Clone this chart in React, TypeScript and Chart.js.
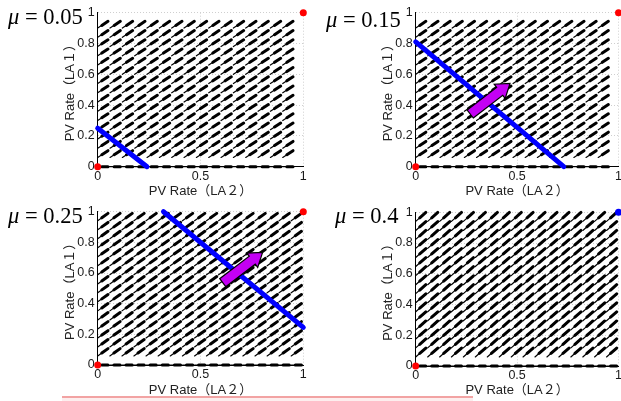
import React, { useEffect, useRef } from 'react';
import { Chart, registerables } from 'chart.js';

Chart.register(...registerables);

// ---------- data ----------
const MU_LABELS = ['0.05', '0.15', '0.25', '0.4'];
const X_TITLE = 'PV Rate（LA２）';
const Y_TITLE = 'PV Rate（LA１）';
const X_TICK_STEP = 0.5;
const Y_TICK_STEP = 0.2;

// quiver base points (same for x and y)
const GRID_UPPER = [0, 0.06, 0.12, 0.18, 0.24, 0.3, 0.36, 0.42, 0.48, 0.54, 0.6, 0.66, 0.72, 0.78, 0.84, 0.9];
const GRID_LOWER = [0, 0.059, 0.118, 0.176, 0.235, 0.294, 0.353, 0.412, 0.471, 0.529, 0.588, 0.647, 0.706, 0.765, 0.824, 0.882, 0.941];
// arrow components per panel
const FIELD_U = [0.05, 0.05, 0.05, 0.05];
const FIELD_V = [0.044, 0.044, 0.048, 0.058];

// blue threshold line per panel
const BLUE_LINE_X = [[0, 0.24], [0, 0.73], [0.32, 1.0], []];
const BLUE_LINE_Y = [[0.25, 0], [0.81, 0], [1.0, 0.245], []];

// stable points
const RED_DOT_X = [[0, 1], [0, 1], [0, 1], [0]];
const RED_DOT_Y = [[0, 1], [0, 1], [0, 1], [0]];
const BLUE_DOT_X = [[], [], [], [1]];
const BLUE_DOT_Y = [[], [], [], [1]];

// magenta push arrow (tail -> tip) per panel
const PUSH_TAIL_X = [null, 0.269, 0.608, null];
const PUSH_TAIL_Y = [null, 0.342, 0.537, null];
const PUSH_TIP_X = [null, 0.465, 0.802, null];
const PUSH_TIP_Y = [null, 0.541, 0.735, null];

// ---------- layout ----------
const PANELS = [
  { left: 40, top: 0, w: 272, h: 200, padTop: 12.7, padRight: 8.7, xAxisH: 33.3, xTitlePad: 0.5, grid: GRID_UPPER, muLeft: 8, muTop: 6.2 },
  { left: 358, top: 0, w: 272, h: 200, padTop: 12.7, padRight: 11.5, xAxisH: 33.3, xTitlePad: 0.5, grid: GRID_UPPER, muLeft: 326, muTop: 9.2 },
  { left: 40, top: 195, w: 272, h: 206, padTop: 16.7, padRight: 8.7, xAxisH: 36, xTitlePad: 3.2, grid: GRID_LOWER, muLeft: 8, muTop: 204.5 },
  { left: 358, top: 195, w: 272, h: 206, padTop: 17.3, padRight: 11.5, xAxisH: 35, xTitlePad: 3.2, grid: GRID_LOWER, muLeft: 335, muTop: 204.5 },
];

const SANS = "'Liberation Sans', 'Noto Sans CJK JP', Arial, sans-serif";
const fmtTick = (v: any) => String(Math.round(Number(v) * 100) / 100);

function makePanelPlugin(i: number) {
  return {
    id: 'panelDecor' + i,
    beforeDatasetsDraw(chart: any) {
      const { ctx, scales } = chart;
      const xs = scales.x, ys = scales.y;
      const grid = PANELS[i].grid;
      ctx.save();
      ctx.strokeStyle = '#000';
      ctx.fillStyle = '#000';
      ctx.lineCap = 'round';
      for (const gy of grid) {
        for (const gx of grid) {
          const u = FIELD_U[i];
          const v = gy === 0 ? 0 : FIELD_V[i];
          const x0 = xs.getPixelForValue(gx), y0 = ys.getPixelForValue(gy);
          const x1 = xs.getPixelForValue(gx + u), y1 = ys.getPixelForValue(gy + v);
          const len = Math.hypot(x1 - x0, y1 - y0);
          const ca = (x1 - x0) / len, sa = (y1 - y0) / len;
          ctx.lineWidth = 1.2;
          ctx.beginPath();
          ctx.moveTo(x0, y0);
          ctx.lineTo(x1, y1);
          ctx.stroke();
          const hs = len * 0.6;
          ctx.lineWidth = 3;
          ctx.beginPath();
          ctx.moveTo(x1 - ca * hs, y1 - sa * hs);
          ctx.lineTo(x1, y1);
          ctx.stroke();
        }
      }
      ctx.restore();
    },
    afterDatasetsDraw(chart: any) {
      if (PUSH_TAIL_X[i] == null) return;
      const { ctx, scales } = chart;
      const xs = scales.x, ys = scales.y;
      const tx = xs.getPixelForValue(PUSH_TAIL_X[i]), ty = ys.getPixelForValue(PUSH_TAIL_Y[i]);
      const hx = xs.getPixelForValue(PUSH_TIP_X[i]), hy = ys.getPixelForValue(PUSH_TIP_Y[i]);
      const len = Math.hypot(hx - tx, hy - ty);
      const ca = (hx - tx) / len, sa = (hy - ty) / len;
      const nx = -sa, ny = ca;
      const sw = 5, hw = 9, hl = 13;
      const bx = hx - ca * hl, by = hy - sa * hl;
      const pts = [
        [tx + nx * sw, ty + ny * sw],
        [bx + nx * sw, by + ny * sw],
        [bx + nx * hw, by + ny * hw],
        [hx, hy],
        [bx - nx * hw, by - ny * hw],
        [bx - nx * sw, by - ny * sw],
        [tx - nx * sw, ty - ny * sw],
      ];
      ctx.save();
      ctx.beginPath();
      pts.forEach((p, k) => (k === 0 ? ctx.moveTo(p[0], p[1]) : ctx.lineTo(p[0], p[1])));
      ctx.closePath();
      ctx.fillStyle = '#c400f4';
      ctx.fill();
      ctx.lineWidth = 1.2;
      ctx.strokeStyle = '#000';
      ctx.lineJoin = 'miter';
      ctx.stroke();
      ctx.restore();
    },
  };
}

function buildConfig(i: number): any {
  const p = PANELS[i];
  const lineData = BLUE_LINE_X[i].map((x, k) => ({ x, y: BLUE_LINE_Y[i][k] }));
  const redData = RED_DOT_X[i].map((x, k) => ({ x, y: RED_DOT_Y[i][k] }));
  const blueData = BLUE_DOT_X[i].map((x, k) => ({ x, y: BLUE_DOT_Y[i][k] }));
  const tickFont = { family: SANS, size: 12.5 };
  const titleFont = { family: SANS, size: 13 };
  return {
    type: 'scatter',
    data: {
      datasets: [
        {
          type: 'line',
          data: lineData,
          borderColor: '#0000ff',
          borderWidth: 5,
          pointRadius: 0,
          borderCapStyle: 'round',
          clip: false,
        },
        { data: redData, pointRadius: 3.5, backgroundColor: '#ff0000', borderWidth: 0, clip: false },
        { data: blueData, pointRadius: 3.5, backgroundColor: '#0000ff', borderWidth: 0, clip: false },
      ],
    },
    options: {
      animation: false,
      responsive: false,
      devicePixelRatio: 1,
      events: [],
      layout: { padding: { top: p.padTop, right: p.padRight, left: 0, bottom: 0 } },
      plugins: { legend: { display: false }, tooltip: { enabled: false } },
      scales: {
        x: {
          type: 'linear',
          min: 0,
          max: 1,
          ticks: { stepSize: X_TICK_STEP, padding: 2, color: '#1a1a1a', font: tickFont, maxRotation: 0, autoSkip: false, callback: fmtTick },
          grid: { color: '#cfcfcf', drawTicks: false, lineWidth: 1 },
          border: { color: '#000', width: 1, dash: [1, 2] },
          title: { display: true, text: X_TITLE, color: '#222', font: titleFont, padding: { top: 0, bottom: p.xTitlePad } },
          afterFit: (s: any) => {
            s.height = p.xAxisH;
          },
        },
        y: {
          type: 'linear',
          min: 0,
          max: 1,
          ticks: { stepSize: Y_TICK_STEP, padding: 3, color: '#1a1a1a', font: tickFont, autoSkip: false, callback: fmtTick },
          grid: { color: '#cfcfcf', drawTicks: false, lineWidth: 1 },
          border: { color: '#000', width: 1, dash: [1, 2] },
          title: { display: true, text: Y_TITLE, color: '#222', font: titleFont, padding: { top: 22.2, bottom: 0 } },
          afterFit: (s: any) => {
            s.width = 57.7;
          },
        },
      },
    },
    plugins: [makePanelPlugin(i)],
  };
}

function Panel({ i }: { i: number }) {
  const ref = useRef<HTMLCanvasElement | null>(null);
  const p = PANELS[i];
  useEffect(() => {
    if (!ref.current) return;
    const chart = new Chart(ref.current, buildConfig(i));
    return () => chart.destroy();
  }, [i]);
  return (
    <canvas
      ref={ref}
      width={p.w}
      height={p.h}
      style={{ position: 'absolute', left: p.left, top: p.top, width: p.w, height: p.h }}
    />
  );
}

export default function App() {
  return (
    <div
      style={{
        position: 'absolute',
        left: 0,
        top: 0,
        width: 621,
        height: 401,
        overflow: 'hidden',
        background: '#fff',
      }}
    >
      <div
        style={{
          position: 'absolute',
          left: 62,
          top: 396,
          width: 411,
          height: 10,
          borderTop: '2px solid #f2a3a3',
          background: '#fdeeee',
          boxSizing: 'border-box',
        }}
      />
      {PANELS.map((_, i) => (
        <Panel key={i} i={i} />
      ))}
      {PANELS.map((p, i) => (
        <div
          key={'mu' + i}
          style={{
            position: 'absolute',
            left: p.muLeft,
            top: p.muTop,
            font: "22.5px 'Liberation Serif', 'Times New Roman', serif",
            lineHeight: 1,
            whiteSpace: 'nowrap',
            color: '#000',
          }}
        >
          <i>μ</i> = {MU_LABELS[i]}
        </div>
      ))}
    </div>
  );
}
